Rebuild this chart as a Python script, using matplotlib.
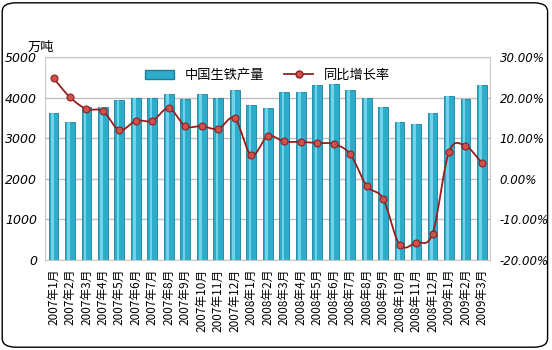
import numpy as np
import matplotlib.pyplot as plt
from matplotlib.patches import FancyBboxPatch, Patch
from matplotlib.lines import Line2D
from matplotlib.ticker import FuncFormatter

plt.rcParams['font.family'] = ['Noto Sans CJK SC', 'DejaVu Sans']

months = ['2007年1月', '2007年2月', '2007年3月', '2007年4月', '2007年5月', '2007年6月',
          '2007年7月', '2007年8月', '2007年9月', '2007年10月', '2007年11月', '2007年12月',
          '2008年1月', '2008年2月', '2008年3月', '2008年4月', '2008年5月', '2008年6月',
          '2008年7月', '2008年8月', '2008年9月', '2008年10月', '2008年11月', '2008年12月',
          '2009年1月', '2009年2月', '2009年3月']
output = [3610, 3400, 3780, 3780, 3950, 4000, 3980, 4080, 3960, 4080, 3990, 4200,
          3830, 3750, 4140, 4130, 4300, 4330, 4200, 4000, 3760, 3410, 3340, 3630,
          4050, 3960, 4320]
growth = [24.8, 20.1, 17.2, 16.7, 12.0, 14.3, 14.3, 17.4, 13.0, 13.0, 12.3, 14.9,
          5.8, 10.5, 9.2, 9.1, 8.8, 8.6, 6.1, -1.7, -4.9, -16.2, -15.7, -13.5,
          6.6, 8.1, 3.9]

bar_label = '中国生铁产量'
line_label = '同比增长率'


def catmull_rom(x, y, n=12):
    # smooth curve through the points, like Excel's smoothed line
    x = np.asarray(x, float)
    y = np.asarray(y, float)
    px = np.concatenate([[2 * x[0] - x[1]], x, [2 * x[-1] - x[-2]]])
    py = np.concatenate([[2 * y[0] - y[1]], y, [2 * y[-1] - y[-2]]])
    xs, ys = [], []
    t = np.linspace(0, 1, n, endpoint=False)
    for i in range(1, len(px) - 2):
        for p, out in ((px, xs), (py, ys)):
            p0, p1, p2, p3 = p[i - 1], p[i], p[i + 1], p[i + 2]
            out.extend(0.5 * (2 * p1 + (-p0 + p2) * t + (2 * p0 - 5 * p1 + 4 * p2 - p3) * t ** 2
                              + (-p0 + 3 * p1 - 3 * p2 + p3) * t ** 3))
    xs.append(x[-1])
    ys.append(y[-1])
    return np.array(xs), np.array(ys)


fig = plt.figure(figsize=(5.52, 3.5), dpi=100)
fig.patches.append(FancyBboxPatch((0.004, 0.008), 0.988, 0.984,
                                  boxstyle='round,pad=0,rounding_size=0.025',
                                  transform=fig.transFigure, facecolor='white',
                                  edgecolor='black', linewidth=1.0, zorder=-1))

ax = fig.add_axes([0.082, 0.257, 0.806, 0.58])
x = np.arange(len(months))
ax.bar(x, output, width=0.6, color='#2eaccc', edgecolor='#1a7f9c', linewidth=0.6, zorder=2)
ax.bar(x - 0.08, output, width=0.16, color='#6fd3ea', linewidth=0, zorder=2.5)
ax.set_xlim(-0.5, len(months) - 0.5)
ax.set_ylim(0, 5000)
ax.set_yticks(range(0, 5001, 1000))
ax.grid(axis='y', color='#bfbfbf', linewidth=1, zorder=0)
ax.set_axisbelow(True)
ax.set_xticks(x)
ax.set_xticklabels(months, rotation=90, fontsize=8.5)
ax.tick_params(axis='x', length=0, pad=6)
ax.tick_params(axis='y', length=0, labelsize=9, pad=6)
for lab in ax.get_yticklabels():
    lab.set_fontstyle('italic')
    lab.set_family('DejaVu Sans')
for s in ax.spines.values():
    s.set_color('#c8c8c8')

ax2 = ax.twinx()
sx, sy = catmull_rom(x, growth)
ax2.plot(sx, sy, color='#981e1e', linewidth=1.3, zorder=3)
ax2.plot(x, growth, linestyle='none', marker='o', markersize=5,
         markerfacecolor='#d0504c', markeredgecolor='#8b2222', markeredgewidth=0.8, zorder=4)
ax2.set_ylim(-20, 30)
ax2.set_yticks(range(-20, 31, 10))
ax2.yaxis.set_major_formatter(FuncFormatter(lambda v, p: f'{v:.2f}%'))
ax2.tick_params(axis='y', length=0, labelsize=8.5, pad=7)
for lab in ax2.get_yticklabels():
    lab.set_fontstyle('italic')
    lab.set_family('DejaVu Sans')
for s in ax2.spines.values():
    s.set_visible(False)

handles = [Patch(facecolor='#2eaccc', edgecolor='#1a7f9c'),
           Line2D([0], [0], color='#981e1e', linewidth=1.3, marker='o', markersize=5,
                  markerfacecolor='#d0504c', markeredgecolor='#8b2222')]
ax2.legend(handles, [bar_label, line_label], loc='upper center', bbox_to_anchor=(0.5, 1.0),
           ncol=2, frameon=False, fontsize=9.5, handlelength=2.2, columnspacing=1.5)

fig.text(0.05, 0.855, '万吨', fontsize=9.5)

fig.savefig('out.png', dpi=100)
